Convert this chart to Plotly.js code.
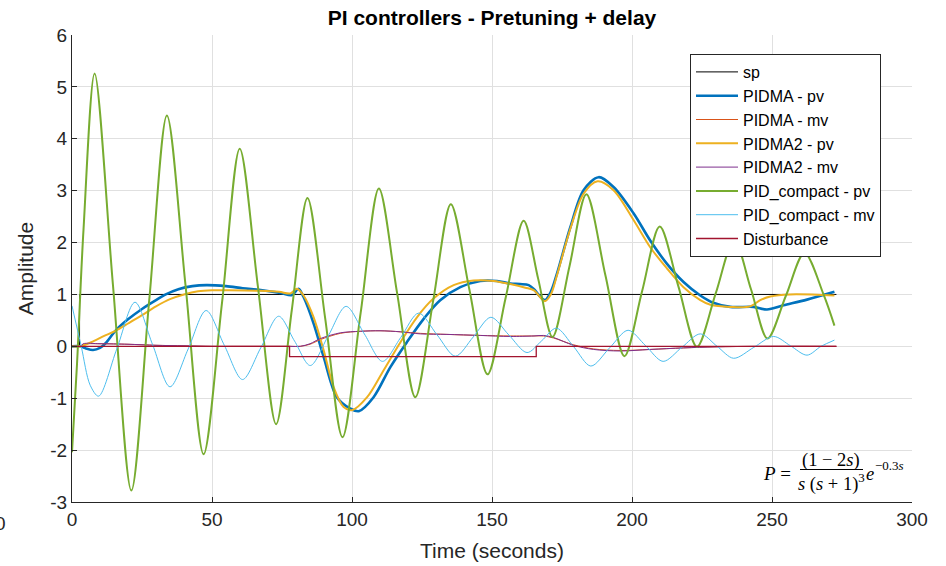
<!DOCTYPE html>
<html>
<head>
<meta charset="utf-8">
<script src="https://cdn.plot.ly/plotly-3.0.1.min.js"></script>
<style>html,body{margin:0;padding:0;background:#fff;}#chart{width:946px;height:566px;}</style>
</head>
<body>
<div id="chart"></div>
<script>
// ---------------- data ----------------
const spT = [0, 2.7, 2.7, 273];
const spV = [0, 0, 1, 1];

const pidmaPvT = [0,3,5,7.5,10,12,15.5,20,25,30,33.5,38,43,48,55,61,68,74.4,78.6,80.9,82.7,86.3,89.9,94.6,99.4,102.4,107.7,113.7,119.6,125.6,131.5,138.7,145.8,151.8,156.5,160,163.1,165,167,168.9,171,173.2,178,182.7,188.1,193.4,200.6,206.5,212.5,218.4,224.4,229,235.1,243.4,248.2,254.1,262.5,272.3];
const pidmaPv  = [0,0,-0.04,-0.07,-0.03,0.06,0.3,0.52,0.72,0.89,1.0,1.1,1.16,1.18,1.16,1.12,1.08,1.03,0.99,1.11,0.95,0.44,-0.21,-0.98,-1.2,-1.25,-0.98,-0.4,0.08,0.53,0.89,1.14,1.26,1.26,1.21,1.2,1.18,1.1,0.97,0.89,1.05,1.4,2.3,3.01,3.26,3.07,2.56,2.04,1.59,1.24,0.98,0.84,0.76,0.76,0.71,0.79,0.9,1.05];

const mvT = [0,3,4,10,20,30,40,50,60,70,78,81.5,85,88.7,95.8,103,110,117.3,124.4,133.9,145.8,156.5,165,168.4,172,179.1,186.3,195.8,206.5,218.4,230,245,273];
const pidmaMv  = [0,0,0.04,0.05,0.04,0.02,0.01,0,0,0,0,0,0.04,0.13,0.25,0.29,0.30,0.28,0.25,0.23,0.21,0.2,0.2,0.2,0.16,0.03,-0.05,-0.08,-0.06,-0.03,-0.01,0,0];

const pidma2PvT = [0,3,7.7,11.5,15.5,20,25,30,35,40,45,50,56,67,74,78,80.3,82.7,86.3,89.9,93.4,97,100,105.4,111.3,117.3,123.2,129.1,136.3,143.4,150.6,156.5,161.9,165,168.8,171,173.2,178,182.7,187.7,193.4,200.6,206.5,212.5,218.4,224.4,228,235.1,242.2,245.8,249.4,256.5,272.3];
const pidma2Pv  = [0,0,0.1,0.2,0.3,0.44,0.6,0.77,0.91,1.0,1.06,1.08,1.08,1.07,1.05,1.02,1.11,0.98,0.56,-0.08,-0.78,-1.17,-1.23,-0.98,-0.46,0.08,0.56,0.92,1.18,1.27,1.26,1.2,1.13,1.08,0.87,1.0,1.37,2.27,2.94,3.18,3.01,2.43,1.91,1.5,1.14,0.89,0.8,0.76,0.77,0.89,0.96,1.0,0.98];

const pidma2Mv = [0,0,0.05,0.05,0.04,0.02,0.01,0,0,0,0,0,0.05,0.15,0.26,0.29,0.30,0.28,0.24,0.23,0.21,0.19,0.2,0.21,0.17,0.02,-0.06,-0.09,-0.06,-0.03,-0.01,0,0];

const compactPvT = [0,1.8,4.1,8.07,14.6,21.2,27.6,33.9,40.5,47,53.6,59.9,66.4,72.9,78.5,84.1,90.4,96.6,103.1,109.6,116.1,122.6,129,135.3,141.9,148.4,154.9,161.3,166.5,171.6,177.7,183.7,190.5,197.3,203.6,209.9,216.6,223.2,229.9,236.5,242.5,248.4,255,261.6,268.4,272.3];
const compactPv  = [-2.04,-0.33,2.24,5.26,1.2,-2.78,0.9,4.45,1.2,-2.08,0.85,3.81,1.15,-1.5,0.7,2.86,0.55,-1.75,0.65,3.04,1.03,-0.98,0.88,2.74,1.1,-0.54,0.94,2.42,1.3,0.18,1.55,2.93,1.37,-0.19,1.06,2.31,1.15,-0.01,1.02,2.05,1.1,0.15,0.98,1.8,1.0,0.4];

const compactMvT = [0,3.3,6.5,9.5,16,22.5,28.8,35,41.5,47.9,54.4,60.9,67.4,73.8,79.5,85.1,91.5,97.9,104.4,110.9,117.4,123.8,130.4,136.9,143.3,149.6,156,162.5,167.8,173,179.2,185.3,192,198.6,204.9,211.1,217.8,224.4,230.4,236.3,243.5,250.6,256.6,262.5,267.5,272.3];
const compactMv  = [0.78,0,-0.75,-0.96,-0.05,0.85,0.03,-0.78,-0.05,0.69,0.02,-0.64,-0.03,0.58,0.1,-0.37,0.2,0.77,0.24,-0.29,0.17,0.64,0.22,-0.19,0.18,0.56,0.22,-0.12,0.11,0.35,-0.01,-0.38,-0.03,0.31,0.01,-0.29,-0.02,0.24,0,-0.23,-0.02,0.19,0.01,-0.17,0,0.12];

const distT = [0, 77.7, 77.7, 165.8, 165.8, 273];
const distV = [0, 0, -0.2, -0.2, 0, 0];

const seriesNames = ['sp','PIDMA - pv','PIDMA - mv','PIDMA2 - pv','PIDMA2 - mv','PID_compact - pv','PID_compact - mv','Disturbance'];
const xTicks = [0,50,100,150,200,250,300];
const yTicks = [-3,-2,-1,0,1,2,3,4,5,6];

// ---------------- layout helpers ----------------
const L = 72, R = 912, T = 35, B = 502;
const pxX = x => (x - L) / (R - L);
const pxY = y => (B - y) / (B - T);
const FONT = 'Liberation Sans, Arial, Helvetica, sans-serif';
const SERIF = 'Liberation Serif, Times New Roman, serif';

function tr(x, y, name, color, width, shape) {
  return {x: x, y: y, name: name, type: 'scatter', mode: 'lines',
          line: {color: color, width: width, shape: shape || 'spline', smoothing: 0.9}};
}

const data = [
  tr(spT, spV, seriesNames[0], '#000000', 1, 'linear'),
  tr(pidmaPvT, pidmaPv, seriesNames[1], '#0072BD', 2.6),
  tr(mvT, pidmaMv, seriesNames[2], '#D95319', 1),
  tr(pidma2PvT, pidma2Pv, seriesNames[3], '#EDB120', 2),
  tr(mvT, pidma2Mv, seriesNames[4], '#7E2F8E', 1),
  tr(compactPvT, compactPv, seriesNames[5], '#77AC30', 2),
  tr(compactMvT, compactMv, seriesNames[6], '#4DBEEE', 1),
  tr(distT, distV, seriesNames[7], '#A2142F', 1.3, 'linear')
];

const axisCommon = {
  showgrid: true, gridcolor: '#e0e0e0', gridwidth: 1, zeroline: false,
  showline: true, linecolor: '#262626', linewidth: 1,
  ticks: 'inside', ticklen: 5, tickcolor: '#262626', tickwidth: 1,
  tickfont: {family: FONT, size: 19, color: '#262626'}, tickmode: 'array'
};

const layout = {
  width: 946, height: 566,
  margin: {l: L, r: 946 - R, t: T, b: 566 - B, pad: 0},
  paper_bgcolor: '#ffffff', plot_bgcolor: '#ffffff',
  font: {family: FONT, color: '#262626'},
  title: {text: '<b>PI controllers - Pretuning + delay</b>', font: {family: FONT, size: 21, color: '#000000'},
          x: 0.5, xref: 'paper', y: 1 - 18 / 566, yref: 'container', yanchor: 'middle'},
  xaxis: Object.assign({}, axisCommon, {range: [0, 300], tickvals: xTicks, ticktext: xTicks.map(String),
          title: {text: 'Time (seconds)', font: {family: FONT, size: 21, color: '#262626'}, standoff: 14}}),
  yaxis: Object.assign({}, axisCommon, {range: [-3, 6], tickvals: yTicks, ticktext: yTicks.map(String),
          title: {text: 'Amplitude', font: {family: FONT, size: 21, color: '#262626'}, standoff: 10}}),
  showlegend: true,
  legend: {x: pxX(690), y: pxY(54), xanchor: 'left', yanchor: 'top', bgcolor: '#ffffff',
           bordercolor: '#262626', borderwidth: 1, font: {family: FONT, size: 16, color: '#000000'},
           itemwidth: 42, traceorder: 'normal'},
  shapes: [
    {type: 'rect', xref: 'paper', yref: 'paper', x0: pxX(757), x1: pxX(913), y0: pxY(491), y1: pxY(456),
     fillcolor: '#ffffff', line: {width: 0}, layer: 'between'},
    {type: 'line', xref: 'paper', yref: 'paper', x0: pxX(800), x1: pxX(863), y0: pxY(469.5), y1: pxY(469.5),
     line: {color: '#000000', width: 1}}
  ],
  annotations: [
    {xref: 'paper', yref: 'paper', x: pxX(793), y: pxY(473), xanchor: 'right', yanchor: 'middle', showarrow: false,
     text: '<i>P</i> =', font: {family: SERIF, size: 19, color: '#000000'}},
    {xref: 'paper', yref: 'paper', x: pxX(831), y: pxY(460), xanchor: 'center', yanchor: 'middle', showarrow: false,
     text: '(1 − 2<i>s</i>)', font: {family: SERIF, size: 18.5, color: '#000000'}},
    {xref: 'paper', yref: 'paper', x: pxX(831), y: pxY(482), xanchor: 'center', yanchor: 'middle', showarrow: false,
     text: '<i>s</i> (<i>s</i> + 1)<sup>3</sup>', font: {family: SERIF, size: 18.5, color: '#000000'}},
    {xref: 'paper', yref: 'paper', x: pxX(864), y: pxY(474), xanchor: 'left', yanchor: 'middle', showarrow: false,
     text: '<i>e</i>', font: {family: SERIF, size: 18.5, color: '#000000'}},
    {xref: 'paper', yref: 'paper', x: pxX(873), y: pxY(465), xanchor: 'left', yanchor: 'middle', showarrow: false,
     text: '−0.3<i>s</i>', font: {family: SERIF, size: 13, color: '#000000'}},
    {xref: 'paper', yref: 'paper', x: pxX(0), y: pxY(523), xanchor: 'center', yanchor: 'middle', showarrow: false,
     text: '0', font: {family: FONT, size: 19, color: '#262626'}}
  ]
};

Plotly.newPlot('chart', data, layout, {displayModeBar: false, staticPlot: true});
</script>
</body>
</html>
